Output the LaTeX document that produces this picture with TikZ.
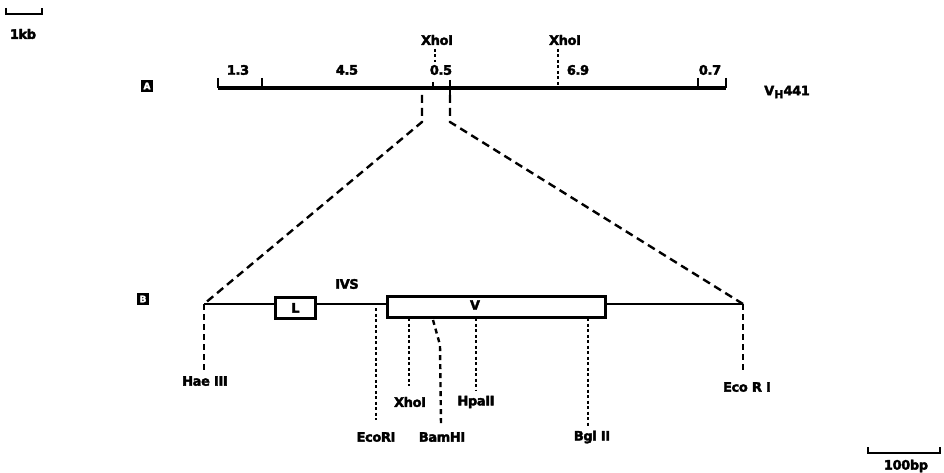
\documentclass[tikz,border=0pt]{standalone}
\usepackage{fontspec}
\newfontfamily\hb{DejaVu Sans}[UprightFont={* Bold}, FakeBold=2.5, LetterSpace=-3]
\begin{document}
\begin{tikzpicture}[x=1pt,y=-1pt,
  lbl/.style={font=\fontsize{13}{14}\hb, inner sep=0pt},
  thick line/.style={line width=3.6pt},
  mid line/.style={line width=2.4pt},
  dots/.style={line width=2.6pt, dash pattern=on 3pt off 2.5pt},
  dashes/.style={line width=2.4pt, dash pattern=on 8pt off 5pt},
  tag/.style={fill=black, minimum width=12pt, minimum height=12pt, inner sep=0pt, text=white, font=\fontsize{9}{10}\hb},
  genebox/.style={draw, line width=2.8pt, fill=white}]
\useasboundingbox (0,0) rectangle (944,473);
% 1kb scale
\coordinate (k1) at (6,8); \coordinate (k2) at (42,8);
\draw[mid line] (k1) -- ++(0,6) -| (k2);
\node[lbl] (kb) at (23,34) {1kb};
% Panel A
\node[tag] (tA) at (147,86) {A};
\coordinate (a0) at (218,88); \coordinate (a1) at (726,88);
\draw[thick line] (a0) -- (a1);
\draw[mid line] (218,78) -- (218,88) (262,78) -- (262,88) (698,78) -- (698,88) (726,78) -- (726,88);
\draw[mid line] (433,82) -- (433,88) (450,80) -- (450,95);
\node[lbl] (n13) at (238,70) {1.3};
\node[lbl] (n45) at (347,70) {4.5};
\node[lbl] (n05) at (441,70) {0.5};
\node[lbl] (n69) at (578,70) {6.9};
\node[lbl] (n07) at (710,70) {0.7};
\node[lbl] (xa1) at (437,40) {XhoI};
\node[lbl] (xa2) at (565,40) {XhoI};
\draw[dots] (435,49) -- (435,62);
\draw[dots] (558,49) -- (558,88);
\node[lbl, anchor=west] (vh) at (764,92) {V\raisebox{-3pt}{\fontsize{11}{11}\hb H}441};
% zoom lines
\coordinate (z1) at (422,95); \coordinate (z2) at (450,95);
\coordinate (b0) at (204,304); \coordinate (b1) at (743,304);
\draw[dashes] (z1) -- (422,122) -- (b0);
\draw[dashes] (z2) -- (450,122) -- (b1);
% Panel B
\node[tag] (tB) at (143,299) {B};
\draw[mid line] (b0) -- (b1);
\node[genebox, minimum width=40pt, minimum height=21pt, anchor=north west, lbl] (L) at (274,296) {L};
\node[genebox, minimum width=218pt, minimum height=21pt, anchor=north west] (V) at (386,295) {};
\node[lbl] (vt) at (475,305) {V};
\node[lbl] (ivs) at (347,284) {IVS};
% sites
\node[lbl] (hae) at (205,381) {Hae III};
\node[lbl] (ecoR) at (747,387) {Eco R I};
\node[lbl] (ecoL) at (376,437) {EcoRI};
\node[lbl] (xho) at (410,402) {XhoI};
\node[lbl] (bam) at (442,437) {BamHI};
\node[lbl] (hpa) at (476,402) {HpaII};
\node[lbl] (bgl) at (592,437) {Bgl II};
\draw[dashes, dash pattern=on 6pt off 4pt] (b0) -- (204,370);
\draw[dashes, dash pattern=on 6pt off 4pt] (b1) -- (743,370);
\draw[dots] (376,308) -- (376,420);
\draw[dots] (409,318) -- (409,386);
\draw[dots] (476,318) -- (476,390);
\draw[dots] (588,318) -- (588,427);
\draw[dashes, dash pattern=on 5pt off 4pt] (433,320) -- (440,345) -- (441,425);
% 100bp scale
\draw[mid line] (868,447) -- ++(0,6) -- (940,453) -- ++(0,-6);
\node[lbl] (bp) at (906,466) {100bp};
\end{tikzpicture}
\end{document}
